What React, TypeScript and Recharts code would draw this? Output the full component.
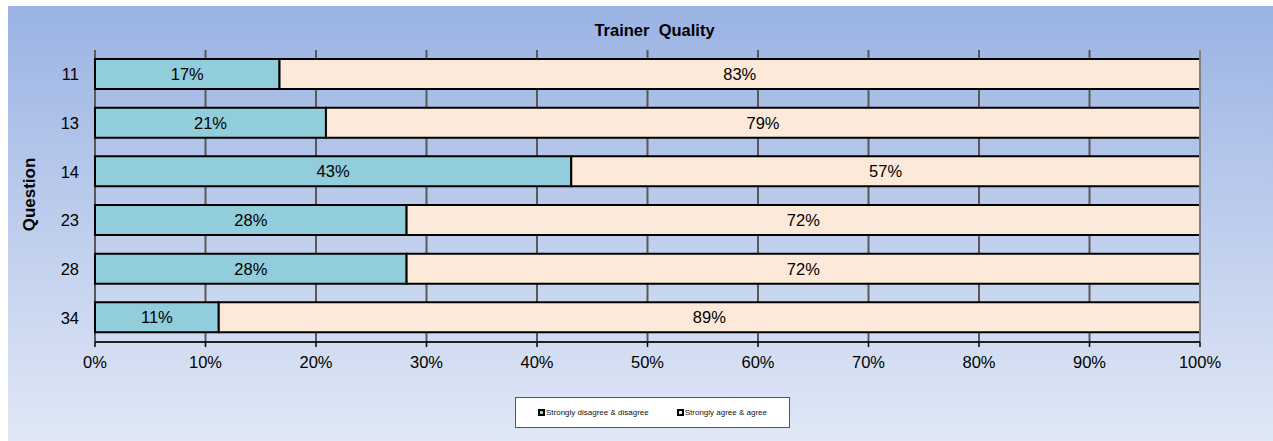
import { BarChart, Bar, XAxis, YAxis, CartesianGrid, Legend, LabelList, Label, ReferenceLine } from 'recharts';

const questions = ['11', '13', '14', '23', '28', '34'];
const disagree = [16.7, 20.9, 43.1, 28.2, 28.2, 11.2];
const agree = [83.3, 79.1, 56.9, 71.8, 71.8, 88.8];
const xTicks = [0, 10, 20, 30, 40, 50, 60, 70, 80, 90, 100];
const edgeTicks = [0, 1, 2, 3, 4, 5, 6];

const seriesNames = ['Strongly disagree & disagree', 'Strongly agree & agree'];
const seriesColors = ['#92CDDC', '#FDE9D9'];

const data = questions.map((q, i) => ({ question: q, disagree: disagree[i], agree: agree[i] }));

const FONT = '"Liberation Sans", Arial, sans-serif';

function LegendBox() {
    return (
        <div
            style={{
                width: 273,
                height: 29,
                background: '#fff',
                border: '1px solid #555',
                display: 'flex',
                alignItems: 'center',
                justifyContent: 'center',
                gap: 28,
                fontSize: 8,
                color: '#111',
                fontFamily: FONT,
                boxSizing: 'content-box',
            }}
        >
            {seriesNames.map((name, i) => (
                <span key={name} style={{ display: 'flex', alignItems: 'center' }}>
                    <span
                        style={{
                            width: 3,
                            height: 3,
                            border: '2px solid #000',
                            background: seriesColors[i],
                            display: 'inline-block',
                            marginRight: 1,
                        }}
                    />
                    {name}
                </span>
            ))}
        </div>
    );
}

export default function App() {
    return (
        <div
            style={{
                position: 'absolute',
                left: 8,
                top: 6,
                width: 1265,
                height: 435,
                background: 'linear-gradient(to bottom, #9AB3E3 0%, #B7C8EB 40%, #E0E8F6 100%)',
                fontFamily: FONT,
            }}
        >
            <BarChart
                width={1265}
                height={435}
                data={data}
                layout="vertical"
                margin={{ top: 44, right: 73, left: 0, bottom: 69 }}
                barSize={30}
            >
                <text
                    x={646.5}
                    y={24}
                    textAnchor="middle"
                    dominantBaseline="central"
                    fontSize={16.5}
                    fontWeight="bold"
                    fill="#000"
                    style={{ whiteSpace: 'pre' }}
                >
                    Trainer  Quality
                </text>
                <CartesianGrid horizontal={false} stroke="#595959" strokeWidth={2} />
                <ReferenceLine yAxisId="edge" y={0} stroke="#808080" strokeWidth={2} />
                <ReferenceLine yAxisId="cat" x={100} stroke="#808080" strokeWidth={2} />
                <XAxis
                    type="number"
                    domain={[0, 100]}
                    ticks={xTicks}
                    tickFormatter={(v) => `${v}%`}
                    axisLine={{ stroke: '#000', strokeWidth: 1.5 }}
                    tickLine={{ stroke: '#000', strokeWidth: 1.5 }}
                    tickSize={5}
                    tickMargin={9}
                    tick={{ fill: '#000', fontSize: 16.5 }}
                    height={30}
                />
                <YAxis
                    yAxisId="edge"
                    type="number"
                    domain={[0, 6]}
                    ticks={edgeTicks}
                    reversed
                    allowDataOverflow
                    tick={false}
                    tickSize={5}
                    tickLine={{ stroke: '#000', strokeWidth: 1.5 }}
                    axisLine={{ stroke: '#000', strokeWidth: 1.5 }}
                    width={0}
                />
                <YAxis
                    yAxisId="cat"
                    type="category"
                    dataKey="question"
                    axisLine={false}
                    tickLine={false}
                    tickMargin={10}
                    tick={{ fill: '#000', fontSize: 16.5 }}
                    width={87}
                >
                    <Label
                        content={() => (
                            <text
                                x={21}
                                y={188.5}
                                transform="rotate(-90 21 188.5)"
                                textAnchor="middle"
                                dominantBaseline="central"
                                fontSize={17}
                                fontWeight="bold"
                                fill="#000"
                            >
                                Question
                            </text>
                        )}
                    />
                </YAxis>
                <Legend
                    layout="horizontal"
                    verticalAlign="middle"
                    align="center"
                    content={() => <LegendBox />}
                    wrapperStyle={{ position: 'absolute', left: 507, top: 391, width: 275, height: 31 }}
                />
                <Bar
                    yAxisId="cat"
                    dataKey="disagree"
                    name={seriesNames[0]}
                    stackId="a"
                    fill={seriesColors[0]}
                    stroke="#000"
                    strokeWidth={2}
                    isAnimationActive={false}
                >
                    <LabelList dataKey="disagree" position="center" fill="#000" fontSize={16.5} formatter={(v: any) => `${Math.round(v)}%`} />
                </Bar>
                <Bar
                    yAxisId="cat"
                    dataKey="agree"
                    name={seriesNames[1]}
                    stackId="a"
                    fill={seriesColors[1]}
                    stroke="#000"
                    strokeWidth={2}
                    isAnimationActive={false}
                >
                    <LabelList dataKey="agree" position="center" fill="#000" fontSize={16.5} formatter={(v: any) => `${Math.round(v)}%`} />
                </Bar>
            </BarChart>
        </div>
    );
}
